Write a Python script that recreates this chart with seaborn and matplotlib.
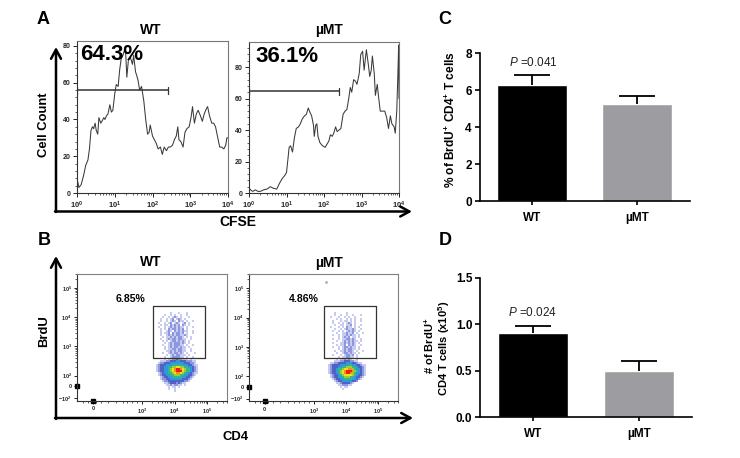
#Importing the libraries
import numpy as np
import matplotlib
matplotlib.use('Agg')
import matplotlib.pyplot as plt
from matplotlib.colors import ListedColormap
from matplotlib.transforms import ScaledTranslation
import seaborn as sns

sns.set_theme(style='white')
plt.rcParams['font.family'] = ['Liberation Sans', 'DejaVu Sans']
plt.rcParams['mathtext.fontset'] = 'custom'
plt.rcParams['mathtext.rm'] = 'Liberation Sans:bold'
plt.rcParams['mathtext.bf'] = 'Liberation Sans:bold'
plt.rcParams['mathtext.it'] = 'Liberation Sans:italic'

#Panel A, histograms (x is in decades of CFSE)
wt_decade = [0, .01, .05, .11, .18, .23, .29, .33, .37, .41, .44, .48, .51, .55, .58, .63, .66, .71, .74, .78, .82, .87,
             .91, .95, 1.0, 1.04, 1.09, 1.13, 1.17, 1.22, 1.26, 1.29, 1.32, 1.36, 1.41, 1.47, 1.5, 1.55, 1.61, 1.66,
             1.71, 1.77, 1.82, 1.87, 1.91, 1.94, 2.0, 2.05, 2.1, 2.15, 2.21, 2.26, 2.31, 2.37, 2.42, 2.47, 2.53, 2.58,
             2.63, 2.67, 2.7, 2.75, 2.81, 2.86, 2.91, 2.97, 3.02, 3.06, 3.11, 3.16, 3.21, 3.27, 3.32, 3.37, 3.43, 3.46,
             3.51, 3.57, 3.62, 3.67, 3.73, 3.78, 3.83, 3.89, 3.94, 3.97, 4.0]
wt_count = [0, 7, 3, 4.5, 10, 15, 18, 24, 34, 36, 35, 38, 34, 32, 41, 38, 39, 41, 40, 42, 43, 48,
            44, 45, 54, 59, 58, 67, 73, 75, 78, 76, 63, 72, 74, 70, 75, 66, 62, 56,
            58, 50, 40, 32, 33, 37, 31, 29, 27, 24, 25, 21, 25, 23, 25, 25, 26, 29,
            31, 36, 29, 28, 25, 33, 35, 36, 41, 47, 38, 43, 45, 42, 39, 43, 46, 47,
            42, 38, 38, 36, 30, 25, 25, 24, 26, 30, 30]
mu_decade = [0, .01, .04, .1, .17, .24, .3, .39, .48, .57, .65, .74, .81, .88, .95, 1.0, 1.04, 1.07, 1.11, 1.16, 1.21,
             1.26, 1.32, 1.37, 1.42, 1.48, 1.53, 1.58, 1.63, 1.67, 1.72, 1.74, 1.78, 1.81, 1.84, 1.89, 1.96, 2.03,
             2.08, 2.13, 2.17, 2.22, 2.26, 2.31, 2.35, 2.4, 2.45, 2.51, 2.56, 2.61, 2.66, 2.7, 2.74, 2.79, 2.84, 2.88,
             2.94, 2.98, 3.03, 3.07, 3.13, 3.18, 3.22, 3.26, 3.29, 3.34, 3.37, 3.42, 3.46, 3.5, 3.55, 3.62, 3.67, 3.72,
             3.77, 3.81, 3.87, 3.9, 3.94, 3.97, 3.99, 4.0]
mu_count = [0, 3, 2, 1, 2, 1, 1, 2, 2.5, 4, 3, 2.5, 6, 9, 11, 13, 22, 29, 30, 26, 35,
            41, 42, 44, 47, 49, 50, 54, 51, 49, 43, 36, 43, 44, 36, 32, 30, 29,
            31, 33, 37, 36, 38, 42, 39, 40, 41, 50, 52, 53, 60, 67, 64, 72, 71, 69,
            76, 88, 90, 78, 91, 82, 74, 78, 87, 76, 62, 69, 60, 52, 52, 52, 48, 41,
            49, 44, 42, 38, 52, 75, 94, 60]

#Panel B, density, one digit per 2 px cell (0 = empty, 9 = red)
wt_density = [
    "", "", "", "", "", "",
    "00000000001000100010",
    "0000000100101001001",
    "0000001001012101000100",
    "00000100101201210100",
    "0000010010121021101001",
    "000010010120121012010",
    "0000010110212120210100",
    "0000100101212121101001",
    "000001010212212120100",
    "00000100121021212110010",
    "0000010112021221201001",
    "000001001212122112100",
    "000000101121212210101",
    "0000010012122122110010",
    "00000010101221212101",
    "0000000101212221210100",
    "00000010012122211010010",
    "0000000101212212110100",
    "00000001011221221100100",
    "0000000011212122110010",
    "00000010012122121010001",
    "0000000010121221110100",
    "00000001001222211010010",
    "0000000101122322111010",
    "00000111223334433322211",
    "00001223334444444333221",
    "000123334445555544433211",
    "000123344556677665544321",
    "000123344567899876554321",
    "000123344567899976554321",
    "000012344556788765443211",
    "000012334455666554433210",
    "000001233445555544332100",
    "000001223344444433321000",
    "000000122333333332210",
    "00000001123332321100",
    "0000000011212211010",
    "000000000101101",
    "00000000010010",
    "000000000000100",
]
mu_density = [
    "", "", "", "", "", "",
    "000000100000100",
    "00000010010010010001",
    "000010001001010010",
    "0000000101001010100100",
    "000001000101101010010",
    "0000010010101210100",
    "000000100110112010010",
    "0000100010102110101",
    "000000100101211210010",
    "00000100101012121010",
    "0000000100112112010010",
    "000001001011212110100",
    "00000000101212011010",
    "000001001011221210010",
    "0000000100121212110100",
    "00000100011212121010",
    "000000010112021210010",
    "000001001012212110100",
    "00000000101212211010",
    "000000100112122101001",
    "00000001001221211010",
    "0000010001012212010",
    "00000000101122110100",
    "00000001011212100100",
    "000000111223332211",
    "00001122333344433211",
    "00012333344445544332110",
    "000123334455666554332100",
    "000123345567788654432100",
    "000123345678999865432100",
    "000123345678998654432100",
    "000012334567777654332100",
    "000012334456665543321",
    "00000123344555544321",
    "000000123344444332",
    "0000000112333321",
    "000000001122211",
    "00000000010110",
    "0000000000100",
    "",
]
density_colors = ['#c6cbef', '#8d97de', '#4f62c8', '#2f9ad6', '#35b68c', '#9ccd35', '#f0e020', '#f59020', '#e8201c']

#Panels C and D, bars
groups = ['WT', 'µMT']
brdu_percent = [6.3, 5.25]
brdu_percent_err = [0.5, 0.45]
brdu_number = [0.91, 0.50]
brdu_number_err = [0.07, 0.10]
bar_colors = ['#000000', '#9d9da1']

W, H = 740, 458
fig = plt.figure(figsize=(W / 100, H / 100), dpi=100)


def make_axes(left, top, right, bottom):
    return fig.add_axes([left / W, 1 - bottom / H, (right - left) / W, (bottom - top) / H])


def ftext(x, y, s, **kw):
    kw.setdefault('ha', 'center')
    kw.setdefault('va', 'center')
    kw.setdefault('fontweight', 'bold')
    kw.setdefault('color', 'black')
    fig.text(x / W, 1 - y / H, s, **kw)


# histograms
def plot_hist(box, decade, count, ymax, yticks, gate_y):
    ax = make_axes(*box)
    sns.lineplot(x=10 ** np.array(decade), y=count, ax=ax, estimator=None, sort=False,
                 color='#3a3a3a', linewidth=0.75)
    ax.set_xscale('log')
    ax.set_xlim(1, 1e4)
    ax.set_ylim(0, ymax)
    ax.set_xticks([1, 10, 100, 1000, 10000])
    ax.set_xticklabels([r'$\mathregular{10^{%d}}$' % i for i in range(5)], fontsize=5.5, fontweight='bold')
    ax.set_yticks(yticks)
    ax.set_yticklabels(yticks, fontsize=5, fontweight='bold')
    ax.set_yticks(np.arange(0, ymax, 4), minor=True)
    ax.xaxis.set_minor_locator(matplotlib.ticker.LogLocator(base=10, subs=np.arange(2, 10), numticks=10))
    ax.xaxis.set_minor_formatter(matplotlib.ticker.NullFormatter())
    ax.tick_params(axis='both', which='major', length=3, width=0.7, color='#222222', pad=1.5, bottom=True, left=True)
    ax.tick_params(axis='both', which='minor', length=1.5, width=0.5, color='#222222', bottom=True, left=True)
    ax.patch.set_visible(False)
    for side, sp in ax.spines.items():
        sp.set_linewidth(0.8)
        sp.set_color('#777777' if side in ('top', 'right') else '#333333')
    # gate with end caps
    ax.plot([1.03, 250], [gate_y, gate_y], color='#333333', lw=1.1)
    ax.plot([1.03, 1.03], [gate_y - 2, gate_y + 2], color='#333333', lw=0.9)
    ax.plot([250, 250], [gate_y - 2, gate_y + 2], color='#333333', lw=0.9)
    return ax


plot_hist((77, 41, 228, 193), wt_decade, wt_count, 82.7, [0, 20, 40, 60, 80], 55.8)
plot_hist((249, 42, 399, 193), mu_decade, mu_count, 95.9, [0, 20, 40, 60, 80], 64.5)

cmap = ListedColormap(density_colors)


# flow plots, axes in decades on a biexponential looking scale
def plot_flow(box, heat_left, density, gate):
    rows = np.array([[int(c) for c in r.ljust(30, '0')] for r in density])
    heat = make_axes(heat_left, 300, heat_left + 60, 392)
    sns.heatmap(rows, ax=heat, mask=rows == 0, cmap=cmap, vmin=0.5, vmax=9.5, cbar=False,
                xticklabels=False, yticklabels=False, linewidths=0, rasterized=True)
    heat.patch.set_visible(False)
    heat.set_zorder(1)

    ax = make_axes(*box)
    ax.set_zorder(2)
    ax.patch.set_visible(False)
    ax.set_xlim(1.01, 5.6)
    ax.set_ylim(1.147, 5.47)
    ax.set_xticks([1.49, 3, 4, 5])
    labels = ax.set_xticklabels(['0', r'$\mathregular{10^{3}}$', r'$\mathregular{10^{4}}$', r'$\mathregular{10^{5}}$'],
                                fontsize=4, fontweight='bold')
    for lab in labels:
        lab.set_transform(lab.get_transform() + ScaledTranslation(3.5 / 100, 0, fig.dpi_scale_trans))
    ax.set_yticks([1.23, 1.64, 2, 3, 4, 5])
    ax.set_yticklabels([r'$\mathregular{-10^{2}}$', '0', r'$\mathregular{10^{2}}$', r'$\mathregular{10^{3}}$',
                        r'$\mathregular{10^{4}}$', r'$\mathregular{10^{5}}$'], fontsize=4, fontweight='bold')
    minor = np.log10(np.arange(2, 10))
    ax.set_xticks(np.concatenate([[1.2, 1.35, 1.6, 1.75, 1.95, 2.2, 2.4, 2.55, 2.7, 2.85],
                                  3 + minor, 4 + minor, 5 + minor[:3]]), minor=True)
    ax.set_yticks(np.concatenate([2 + minor, 3 + minor, 4 + minor, 5 + minor[:2]]), minor=True)
    ax.tick_params(axis='both', which='major', length=2.5, width=0.7, color='#222222', pad=1.5, bottom=True, left=True)
    ax.tick_params(axis='both', which='minor', length=1.3, width=0.5, color='#222222', bottom=True, left=True)
    for side, sp in ax.spines.items():
        sp.set_linewidth(0.8)
        sp.set_color('#808080' if side in ('top', 'right') else '#333333')
    # gate box
    x0, x1, y0, y1 = gate
    ax.plot([x0, x1, x1, x0, x0], [y0, y0, y1, y1, y0], color='#333333', lw=0.9)
    # blobs where events pile up on the zero ticks
    ax.plot([1.49], [1.147], 's', color='black', ms=2.2, clip_on=False)
    ax.plot([1.01], [1.64], 's', color='black', ms=2.2, clip_on=False)
    return ax


plot_flow((77.3, 274, 226.7, 400.7), 150, wt_density, (3.35, 4.95, 2.6, 4.4))
ax_mu = plot_flow((249.3, 274.3, 397.7, 401), 322, mu_density, (3.32, 4.93, 2.6, 4.4))
ax_mu.plot([3.37], [5.2], 's', color='#9aa0c0', ms=0.8)


# bar charts
def plot_bars(box, values, errors, ylim, yticks, ticklabels):
    ax = make_axes(*box)
    sns.barplot(x=groups, y=values, hue=groups, palette=bar_colors, saturation=1, width=0.667,
                errorbar=None, legend=False, ax=ax)
    # upper error only, with a cap on top
    tops = np.array(values) + np.array(errors)
    ax.vlines([0, 1], values, tops, color='black', lw=1.3)
    ax.plot([0, 1], tops, '_', color='black', ms=26.5, mew=1.3)
    ax.set_xlim(-0.5, 1.5)
    ax.set_ylim(*ylim)
    ax.set_yticks(yticks)
    ax.set_yticklabels(ticklabels, fontsize=8.5, fontweight='bold', color='black')
    ax.set_xticks([0, 1])
    ax.set_xticklabels(groups, fontsize=8.5, fontweight='bold', color='black')
    ax.tick_params(axis='y', length=3.5, width=1.2, color='black', pad=2, left=True)
    ax.tick_params(axis='x', length=3, width=1.2, color='black', pad=5, bottom=True)
    sns.despine(ax=ax)
    ax.spines['left'].set_linewidth(1.2)
    ax.spines['bottom'].set_linewidth(1.2)
    ax.spines['left'].set_color('black')
    ax.spines['bottom'].set_color('black')
    ax.patch.set_visible(False)
    return ax


plot_bars((479.5, 53.3, 689.5, 201), brdu_percent, brdu_percent_err, (0, 8), [0, 2, 4, 6, 8], ['0', '2', '4', '6', '8'])
plot_bars((480, 277.7, 692, 417.3), brdu_number, brdu_number_err, (0, 1.5), [0, 0.5, 1.0, 1.5],
          ['0.0', '0.5', '1.0', '1.5'])

# overlay for arrows
over = fig.add_axes([0, 0, 1, 1], zorder=5)
over.set_xlim(0, W)
over.set_ylim(H, 0)
over.axis('off')
arrow = dict(arrowstyle='->,head_length=0.55,head_width=0.3', lw=1.8, color='black', shrinkA=0, shrinkB=0)
for start, end in [((56, 212), (56, 47)), ((55, 211.5), (412, 211.5)), ((56, 419), (56, 256)), ((55, 418), (413, 418))]:
    over.annotate('', xy=end, xytext=start, arrowprops=arrow)

# panel letters
ftext(43, 20, 'A', fontsize=13)
ftext(44, 241, 'B', fontsize=13)
ftext(445, 20, 'C', fontsize=13)
ftext(445, 241, 'D', fontsize=13)

# titles and axis names
for x, y, s in [(151, 29.5, 'WT'), (329, 30, 'µMT'), (151, 262.5, 'WT'), (329, 262.5, 'µMT')]:
    ftext(x, y, s, fontsize=10)
ftext(44, 125, 'Cell Count', fontsize=9.4, rotation=90)
ftext(238, 222, 'CFSE', fontsize=10)
ftext(44, 331.5, 'BrdU', fontsize=9.4, rotation=90)
ftext(236, 437, 'CD4', fontsize=9.4)

ftext(80, 54, '64.3%', fontsize=16, ha='left')
ftext(255, 56.5, '36.1%', fontsize=16, ha='left')
ftext(130, 299.5, '6.85%', fontsize=7.6)
ftext(303.5, 299.5, '4.86%', fontsize=7.6)

ftext(450.5, 120, r'% of BrdU$^{\mathbf{+}}$ CD4$^{\mathbf{+}}$ T cells', fontsize=8.6, rotation=90)
ftext(429.5, 346, r'# of BrdU$^{\mathbf{+}}$', fontsize=8, rotation=90)
ftext(444, 348, r'CD4 T cells (x10$^{\mathbf{5}}$)', fontsize=8, rotation=90)
ftext(533, 63, r'$\mathit{P}$ =0.041', fontsize=8.5, fontweight='normal', color='#222222')
ftext(532.5, 313, r'$\mathit{P}$ =0.024', fontsize=8.5, fontweight='normal', color='#222222')

fig.savefig('out.png', dpi=100)
